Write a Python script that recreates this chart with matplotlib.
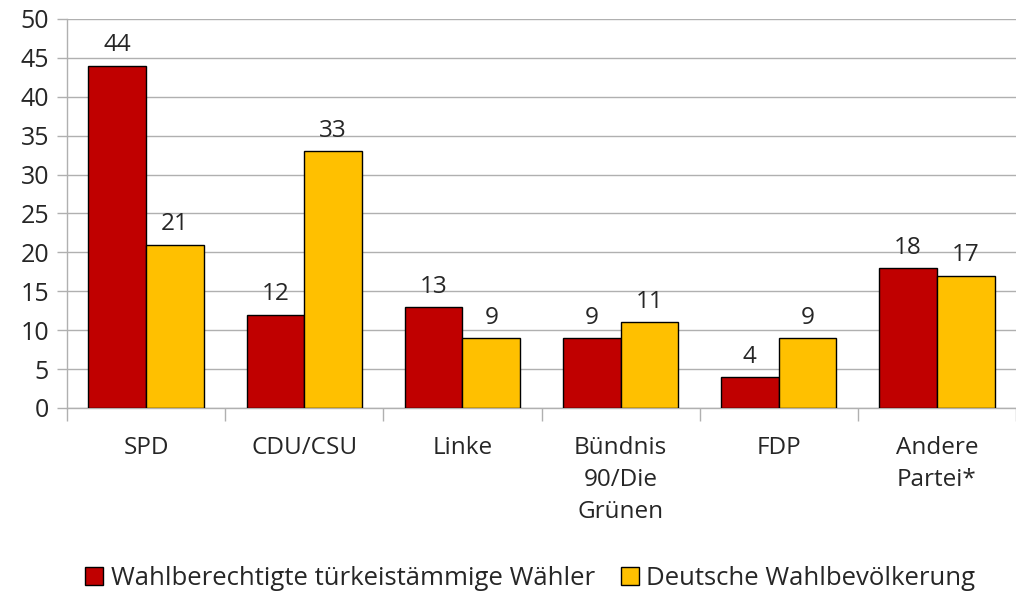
import matplotlib.pyplot as plt
import numpy as np

plt.rcParams['font.family'] = ['Open Sans', 'DejaVu Sans']

# data
parties = ['SPD', 'CDU/CSU', 'Linke', 'Bündnis\n90/Die\nGrünen', 'FDP', 'Andere\nPartei*']
tuerk = [44, 12, 13, 9, 4, 18]
deutsch = [21, 33, 9, 11, 9, 17]
series_names = ['Wahlberechtigte türkeistämmige Wähler', 'Deutsche Wahlbevölkerung']

red = '#C00000'
yellow = '#FFC000'
grid = '#B0B0B0'
txt = '#262626'

fig = plt.figure(figsize=(10.16, 5.93), dpi=100)
ax = fig.add_axes([0.066, 0.312, 0.934, 0.656])

x = np.arange(len(parties))
w = 0.365
b1 = ax.bar(x - w / 2, tuerk, w, color=red, edgecolor='#000000', linewidth=1, label=series_names[0], zorder=3)
b2 = ax.bar(x + w / 2, deutsch, w, color=yellow, edgecolor='#000000', linewidth=1, label=series_names[1], zorder=3)

for bars in (b1, b2):
    for r in bars:
        ax.annotate(str(int(r.get_height())), (r.get_x() + r.get_width() / 2, r.get_height()),
                    xytext=(0, 6), textcoords='offset points', ha='center', va='bottom',
                    fontsize=17.5, color=txt)

ax.set_xlim(-0.5, len(parties) - 0.5)
ax.set_ylim(0, 50)
ax.set_yticks(range(0, 51, 5))
ax.yaxis.grid(True, color=grid, linewidth=1, zorder=0)
ax.set_axisbelow(True)

ax.set_xticks(x)
ax.set_xticklabels(parties, fontsize=17.5, color=txt, linespacing=1.45)
ax.set_xticks(np.arange(-0.5, len(parties), 1), minor=True)
ax.tick_params(axis='x', which='major', length=0, pad=20)
ax.tick_params(axis='x', which='minor', length=9, color=grid, width=1)
ax.tick_params(axis='y', length=7, color=grid, width=1, labelsize=18, labelcolor=txt, pad=6)

for s in ['top', 'right']:
    ax.spines[s].set_visible(False)
for s in ['left', 'bottom']:
    ax.spines[s].set_color(grid)
    ax.spines[s].set_linewidth(1)

fig.legend(handles=[b1, b2], loc='center', bbox_to_anchor=(0.522, 0.025), ncol=2, frameon=False,
           fontsize=18.5, handlelength=0.7, handleheight=0.7, handletextpad=0.3, columnspacing=1.0,
           labelcolor=txt)

fig.savefig('out.png', dpi=100)
